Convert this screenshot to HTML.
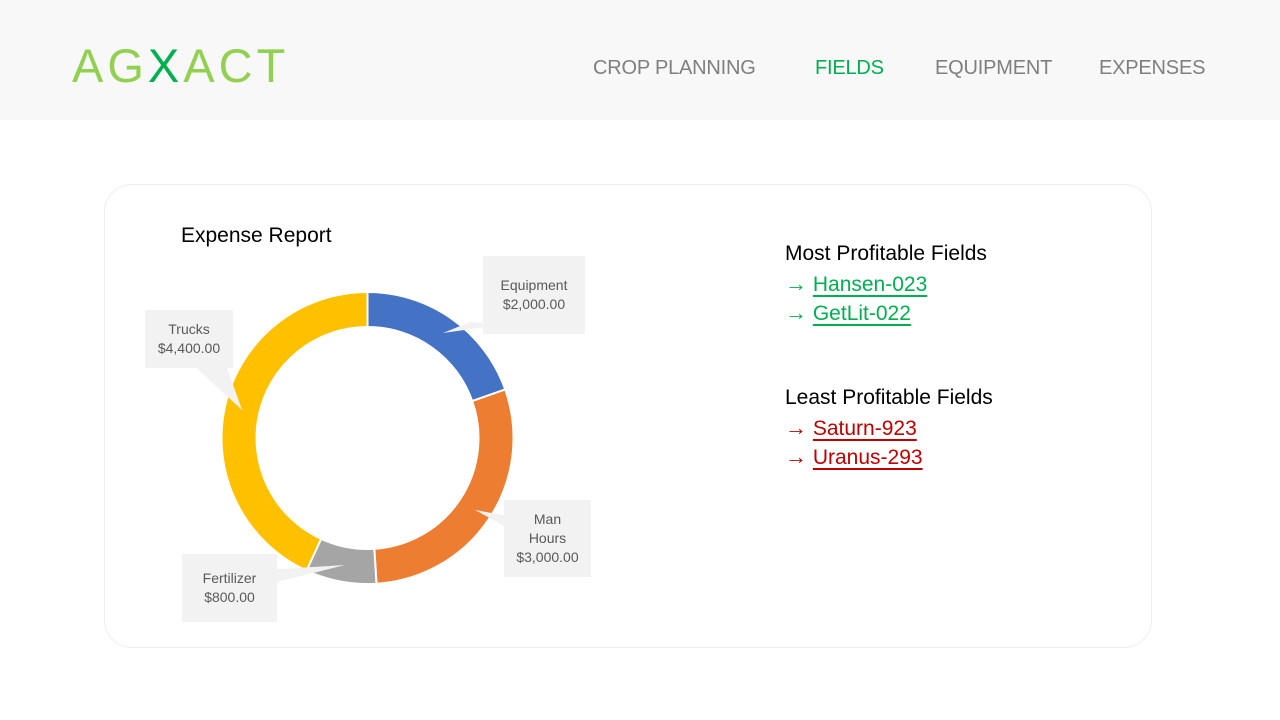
<!DOCTYPE html>
<html><head><meta charset="utf-8">
<style>
body{margin:0;width:1280px;height:720px;background:#fff;font-family:"Liberation Sans",sans-serif;position:relative;overflow:hidden}
.hdr{position:absolute;left:0;top:0;width:1280px;height:120px;background:#f8f8f8}
.logo{position:absolute;left:72px;top:38px;font-size:47px;letter-spacing:4px;color:#92d050;font-weight:300}
.logo span{color:#00b050}
.nav{position:absolute;top:57px;font-size:20px;color:#7f7f7f;letter-spacing:-0.2px}
.card{position:absolute;left:104px;top:184px;width:1048px;height:464px;border:1px solid #eee;border-radius:28px;box-sizing:border-box}
.title{position:absolute;left:181px;top:224px;font-size:21px;color:#000}
.lbl{position:absolute;background:#f2f2f2;color:#595959;font-size:14px;text-align:center;line-height:19px;box-sizing:border-box}
.h{position:absolute;left:785px;font-size:21px;color:#000}
.lk{position:absolute;left:785px;font-size:21px}
.lk b{font-weight:bold;font-size:22px}
.lk u{text-decoration:underline;text-underline-offset:4px;text-decoration-thickness:2px}
</style></head><body>
<div class="hdr">
<div class="logo">AG<span>X</span>ACT</div>
<div class="nav" style="left:593px">CROP PLANNING</div>
<div class="nav" style="left:815px;color:#00b050">FIELDS</div>
<div class="nav" style="left:935px">EQUIPMENT</div>
<div class="nav" style="left:1099px">EXPENSES</div>
</div>
<div class="card"></div>
<div class="title">Expense Report</div>
<svg id="chart" width="1280" height="720" style="position:absolute;left:0;top:0"></svg>
<div class="lbl" style="left:483px;top:256px;width:102px;height:78px;padding-top:20px">Equipment<br>$2,000.00</div>
<div class="lbl" style="left:145px;top:310px;width:88px;height:58px;padding-top:10px">Trucks<br>$4,400.00</div>
<div class="lbl" style="left:504px;top:500px;width:87px;height:77px;padding-top:10px">Man<br>Hours<br>$3,000.00</div>
<div class="lbl" style="left:182px;top:554px;width:95px;height:68px;padding-top:15px">Fertilizer<br>$800.00</div>
<div class="h" style="top:242px">Most Profitable Fields</div>
<div class="lk" style="top:271px;color:#00b050"><b>→</b> <u>Hansen-023</u></div>
<div class="lk" style="top:300px;color:#00b050"><b>→</b> <u>GetLit-022</u></div>
<div class="h" style="top:386px">Least Profitable Fields</div>
<div class="lk" style="top:415px;color:#c00000"><b>→</b> <u>Saturn-923</u></div>
<div class="lk" style="top:444px;color:#c00000"><b>→</b> <u>Uranus-293</u></div>
<script>
const categories=["Equipment","Man Hours","Fertilizer","Trucks"];
const values=[2000,3000,800,4400];
const colors=["#4472c4","#ed7d31","#a5a5a5","#ffc000"];
const svg=document.getElementById('chart');
const NS="http://www.w3.org/2000/svg";
const cx=367.5,cy=438,R=146,r=111;
const ptrs=[[[470,322],[443,333],[500,325]],[[190,362],[242,410],[225,362]],[[530,520],[475,510],[530,540]],[[265,570],[345,565],[265,585]]];
const total=values.reduce((a,b)=>a+b,0);
function pt(a,rad){return [cx+rad*Math.sin(a),cy-rad*Math.cos(a)];}
let acc=0;
values.forEach((v,i)=>{
 const a0=acc/total*2*Math.PI;acc+=v;const a1=acc/total*2*Math.PI;
 const lg=(a1-a0)>Math.PI?1:0;
 const p0=pt(a0,R),p1=pt(a1,R),q1=pt(a1,r),q0=pt(a0,r);
 const p=document.createElementNS(NS,'path');
 p.setAttribute('d',`M${p0}A${R},${R} 0 ${lg} 1 ${p1}L${q1}A${r},${r} 0 ${lg} 0 ${q0}Z`);
 p.setAttribute('fill',colors[i]);p.setAttribute('stroke','#fff');p.setAttribute('stroke-width','2');
 
 
 svg.appendChild(p);
});
ptrs.forEach((t,i)=>{
 const g=document.createElementNS(NS,'polygon');
 g.setAttribute('points',t.map(x=>x.join(',')).join(' '));
 g.setAttribute('fill','#f2f2f2');
 
 
 svg.appendChild(g);
});
</script>
</body></html>
